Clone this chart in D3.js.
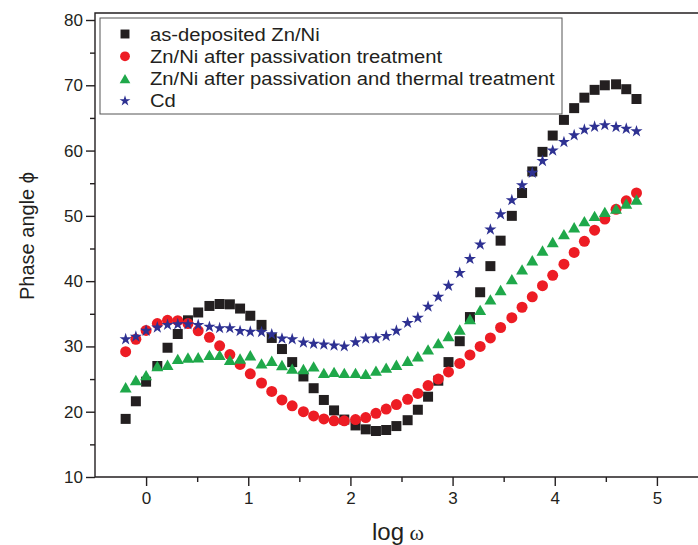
<!DOCTYPE html>
<html>
<head>
	<meta charset="utf-8">
	<title>Phase angle vs log w</title>
	<style>
		body {
			margin: 0;
			background: white;
		}
		svg {
			font-family: 'Liberation Sans', Arial, sans-serif;
		}
	</style>
</head>
<body>
	<svg width='698' height='545'></svg>
<script src='https://d3js.org/d3.v7.min.js'></script>
<script>

	// log(omega) values, same for all four series
	let logW = [-0.20, -0.10, 0.00, 0.11, 0.21, 0.31, 0.41, 0.51, 0.62, 0.72,
		0.82, 0.92, 1.02, 1.13, 1.23, 1.33, 1.43, 1.54, 1.64, 1.74,
		1.84, 1.94, 2.05, 2.15, 2.25, 2.35, 2.45, 2.56, 2.66, 2.76,
		2.86, 2.96, 3.07, 3.17, 3.27, 3.37, 3.47, 3.58, 3.68, 3.78,
		3.88, 3.98, 4.09, 4.19, 4.29, 4.39, 4.49, 4.60, 4.70, 4.80]

	let asDeposited = [18.9, 21.6, 24.6, 27.0, 29.8, 31.9, 34.0, 35.2, 36.2, 36.5,
		36.45, 35.8, 34.7, 33.3, 31.3, 29.6, 27.6, 25.4, 23.6, 21.8,
		20.2, 18.8, 17.9, 17.3, 17.05, 17.2, 17.8, 18.7, 20.3, 22.3,
		24.75, 27.6, 30.8, 34.5, 38.3, 42.3, 46.2, 50.0, 53.5, 56.8,
		59.8, 62.3, 64.7, 66.5, 68.1, 69.3, 70.0, 70.15, 69.4, 67.9]

	let passivated = [29.2, 31.1, 32.45, 33.5, 34.0, 33.95, 33.5, 32.4, 31.4, 30.1,
		28.75, 27.25, 25.8, 24.4, 23.1, 21.8, 20.9, 20.0, 19.35, 18.9,
		18.6, 18.6, 18.8, 19.1, 19.75, 20.4, 21.1, 21.9, 22.8, 24.0,
		25.0, 26.1, 27.4, 28.7, 30.0, 31.3, 32.9, 34.4, 36.0, 37.6,
		39.3, 40.9, 42.6, 44.4, 46.1, 47.8, 49.5, 51.0, 52.3, 53.5]

	let passThermal = [23.75, 24.85, 25.6, 27.0, 27.2, 28.1, 28.3, 28.35, 28.7, 28.7,
		27.95, 28.15, 28.65, 27.4, 27.8, 27.15, 26.6, 26.55, 26.95, 25.95,
		26.1, 25.95, 25.95, 25.8, 26.3, 26.75, 27.2, 27.8, 28.5, 29.55,
		30.5, 31.6, 32.6, 34.2, 35.6, 37.2, 38.65, 40.3, 41.8, 43.2,
		44.7, 46.0, 47.2, 48.25, 49.2, 50.0, 50.6, 51.1, 51.9, 52.5]

	let cadmium = [31.1, 31.5, 32.4, 32.9, 33.3, 33.4, 33.4, 33.3, 33.0, 32.8,
		32.8, 32.35, 32.25, 32.2, 31.85, 31.2, 31.1, 30.6, 30.4, 30.3,
		30.15, 30.0, 30.65, 31.2, 31.25, 31.6, 32.4, 33.6, 34.4, 36.1,
		37.6, 39.3, 41.25, 43.4, 45.6, 47.9, 50.25, 52.4, 54.7, 56.6,
		58.4, 60.0, 61.3, 62.35, 63.2, 63.65, 63.9, 63.6, 63.35, 62.95]

	let seriesNames = ['as-deposited Zn/Ni', 'Zn/Ni after passivation treatment',
		'Zn/Ni after passivation and thermal treatment', 'Cd']

	let xTicks = [0, 1, 2, 3, 4, 5]
	let yTicks = [10, 20, 30, 40, 50, 60, 70, 80]

	// triangle centred on its bounding box (Origin style)
	let boxTriangle = {
		draw(ctx, size) {
			let s = Math.sqrt(size * 4 / Math.sqrt(3))
			let h = s * Math.sqrt(3) / 2
			ctx.moveTo(0, -h / 2)
			ctx.lineTo(s / 2, h / 2)
			ctx.lineTo(-s / 2, h / 2)
			ctx.closePath()
		}
	}

	let series = [
		{ name: seriesNames[0], values: asDeposited, color: '#231f20', symbol: d3.symbolSquare, size: 100 },
		{ name: seriesNames[1], values: passivated, color: '#ed1c24', symbol: d3.symbolCircle, size: 95 },
		{ name: seriesNames[2], values: passThermal, color: '#1fa84a', symbol: boxTriangle, size: 62 },
		{ name: seriesNames[3], values: cadmium, color: '#2e3192', symbol: d3.symbolStar, size: 46 }
	]

	let svg = d3.select('svg')

	let x = d3.scaleLinear()
		.domain([-0.5, 5.5])
		.range([95, 708])

	let y = d3.scaleLinear()
		.domain([10, 80])
		.range([477, 20])

	let axisColor = '#231f20'

	// frame (right side runs off the picture)
	svg.append('path')
		.attr('d', `M${x(5.5)},${y(80) - 7}H${x(-0.5)}V${y(10)}H${x(5.5)}`)
		.style('fill', 'none')
		.style('stroke', axisColor)
		.style('stroke-width', 1.4)

	// x axis
	svg.append('g')
		.attr('transform', `translate(0,${y(10)})`)
		.call(d3.axisBottom(x).tickValues(xTicks).tickSize(9).tickPadding(6).tickFormat(d3.format('d')))

	svg.append('g')
		.attr('transform', `translate(0,${y(10)})`)
		.call(d3.axisBottom(x).tickValues([0.5, 1.5, 2.5, 3.5, 4.5]).tickSize(5).tickFormat(''))

	// y axis
	svg.append('g')
		.attr('transform', `translate(${x(-0.5)},0)`)
		.call(d3.axisLeft(y).tickValues(yTicks).tickSize(9).tickPadding(3))

	svg.append('g')
		.attr('transform', `translate(${x(-0.5)},0)`)
		.call(d3.axisLeft(y).tickValues([15, 25, 35, 45, 55, 65, 75]).tickSize(5).tickFormat(''))

	svg.selectAll('.domain').remove()
	svg.selectAll('.tick line')
		.style('stroke', axisColor)
		.style('stroke-width', 1.4)
	svg.selectAll('.tick text')
		.style('font-family', "'Liberation Sans', Arial, sans-serif")
		.style('font-size', '17px')
		.style('fill', axisColor)

	// axis titles
	svg.append('text')
		.attr('transform', 'translate(34,236) rotate(-90)')
		.attr('text-anchor', 'middle')
		.style('font-size', '20px')
		.style('fill', axisColor)
		.text('Phase angle  ϕ')

	let xTitle = svg.append('text')
		.attr('x', 398)
		.attr('y', 540)
		.attr('text-anchor', 'middle')
		.style('font-size', '24px')
		.style('fill', axisColor)
	xTitle.append('tspan').text('log')
	xTitle.append('tspan')
		.style('font-family', "'Liberation Serif', serif")
		.style('font-size', '22px')
		.text(' ω')

	// data points
	series.forEach(s => {
		let shape = d3.symbol().type(s.symbol).size(s.size)
		svg.append('g')
			.selectAll('path')
			.data(s.values)
			.join('path')
			.attr('d', shape)
			.attr('transform', (d, i) => `translate(${x(logW[i])},${y(d)})`)
			.style('fill', s.color)
			.style('stroke', 'none')
	})

	// legend
	let legend = svg.append('g')

	legend.append('rect')
		.attr('x', 100)
		.attr('y', 18)
		.attr('width', 462)
		.attr('height', 96)
		.style('fill', 'white')
		.style('stroke', '#555')
		.style('stroke-width', 1)

	series.forEach((s, i) => {
		let cy = 34 + i * 22.3
		legend.append('path')
			.attr('d', d3.symbol().type(s.symbol).size(s.size * 0.8))
			.attr('transform', `translate(125,${cy})`)
			.style('fill', s.color)
		// the legend lettering in the original is stretched sideways
		legend.append('text')
			.attr('transform', `translate(150,${cy + 6.5}) scale(1.19,1.04)`)
			.style('font-size', '17px')
			.style('fill', axisColor)
			.text(s.name)
	})

</script>
</body>
</html>
